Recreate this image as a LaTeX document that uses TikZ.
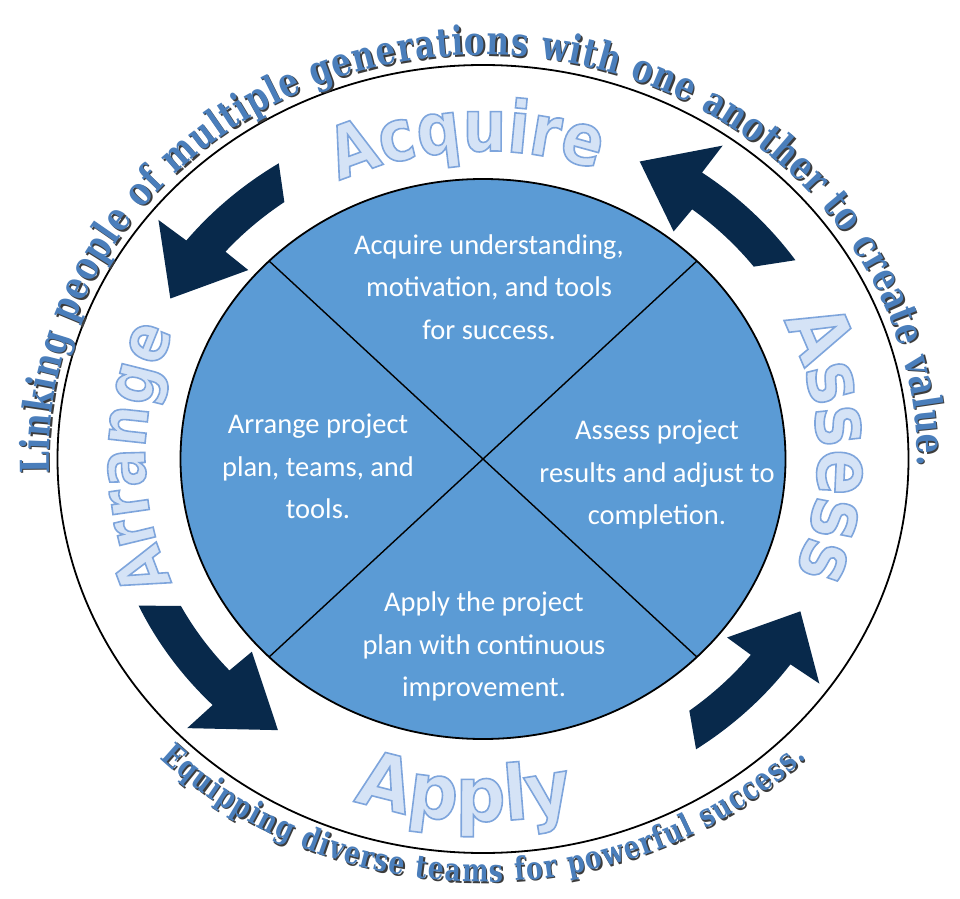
\documentclass[tikz,border=0pt]{standalone}
\usepackage{fontspec}
\usetikzlibrary{decorations.text}
\newfontfamily\quadfont{Carlito}
\newfontfamily\bigfont{DejaVu Sans}[FakeStretch=0.85]
\newfontfamily\bigfontb{DejaVu Sans}[FakeStretch=0.92]
\newfontfamily\ringfont{DejaVu Serif}[FakeStretch=0.78]
\definecolor{quadfill}{HTML}{5B9BD5}
\definecolor{arrowc}{HTML}{08294B}
\definecolor{ringblue}{HTML}{4A7EBB}
\definecolor{ringshadow}{HTML}{3C3C3C}
\definecolor{bigfill}{HTML}{D5E3F6}
\tikzset{
  quadtext/.style={font={\quadfont\fontsize{28.5}{42.5}\selectfont}, text=white, align=center, inner sep=0pt},
  ringline/.style={line width=1.8pt, draw=black},
  divline/.style={line width=1.4pt, draw=black}
}
% curved block arrow: #1 outer tail angle, #2 inner head-base angle, #3 tip angle
\newcommand\CurvedArrow[3]{%
  \fill[arrowc] (#1:351pt) arc[start angle=#1, end angle={#2+2.5}, radius=351pt]
    -- ({#2+2.5}:384pt) -- (#3:331pt) -- (#2:288pt) -- (#2:316pt)
    arc[start angle=#2, end angle={#1+3}, radius=316pt] -- cycle;}
% outlined big word along a path (fill + stroke text render mode): #1 font, #2 word, #3 path
\newcommand\BigWord[3]{%
  \path[decorate, decoration={text along path, text align=center,
      text={|#1\color{bigfill}\special{pdf:code 2 Tr 1.6 w 0.494 0.647 0.863 RG}|#2}}] #3;}
% ring text with offset shadow: #1 size, #2 text, #3 path
\newcommand\RingText[3]{%
  \path[decorate, decoration={text along path, text align=fit to path,
      text={|\ringfont\bfseries\fontsize{#1}{#1}\selectfont\color{ringshadow}|#2}},
      xshift=1.6pt, yshift=-1.6pt] #3;
  \path[decorate, decoration={text along path, text align=fit to path,
      text={|\ringfont\bfseries\fontsize{#1}{#1}\selectfont\color{ringblue}|#2}}] #3;}
\begin{document}
\begin{tikzpicture}[x=1pt,y=1pt]
\useasboundingbox (0,0) rectangle (960,898);
\fill[white] (0,0) rectangle (960,898);
\begin{scope}[shift={(483,439)}]
  % outer ring
  \draw[ringline] (0,0) ellipse [x radius=425.5pt, y radius=394pt];
  % inner disc
  \fill[quadfill] (0,0) ellipse [x radius=302.5pt, y radius=280pt];
  \draw[divline] (45:302.5pt and 280pt) -- (225:302.5pt and 280pt);
  \draw[divline] (135:302.5pt and 280pt) -- (315:302.5pt and 280pt);
  \draw[ringline] (0,0) ellipse [x radius=302.5pt, y radius=280pt];
  % arrows
  \begin{scope}[xscale=1.08]
    \CurvedArrow{34.5}{52.2}{64}
    \CurvedArrow{122.6}{139}{151}
    \CurvedArrow{204.7}{222}{235}
    \CurvedArrow{304.2}{321.7}{332.6}
  \end{scope}
  % big words
  \BigWord{\bigfont\bfseries\fontsize{72}{72}\selectfont}{Acquire}
    {(150:332.6pt and 308pt) arc[start angle=150, end angle=35.8, x radius=332.6pt, y radius=308pt]}
  \BigWord{\bigfont\bfseries\fontsize{67}{67}\selectfont}{Arrange}
    {(214:338pt and 313pt) arc[start angle=214, end angle=145.4, x radius=338pt, y radius=313pt]}
  \BigWord{\bigfont\bfseries\fontsize{80}{80}\selectfont}{Assess}
    {(36:335pt and 310pt) arc[start angle=36, end angle=-31, x radius=335pt, y radius=310pt]}
  \BigWord{\bigfontb\bfseries\fontsize{76}{76}\selectfont}{Apply}
    {(230:391pt and 362pt) arc[start angle=230, end angle=304, x radius=391pt, y radius=362pt]}
  % ring texts
  \RingText{40}{Linking people of multiple generations with one another to create value.}
    {(182:434pt and 404pt) arc[start angle=182, end angle=-1, x radius=434pt, y radius=404pt]}
  \RingText{32}{Equipping diverse teams for powerful success.}
    {(225:457pt and 423pt) arc[start angle=225, end angle=315, x radius=457pt, y radius=423pt]}
\end{scope}
% quadrant texts
\node[quadtext] (acq) at (489,611) {Acquire understanding,\\motivation, and tools\\for success.};
\node[quadtext] (arr) at (318,431.5) {Arrange project\\plan, teams, and\\tools.};
\node[quadtext] (ass) at (657,423.5) {Assess project\\results and adjust to\\completion.};
\node[quadtext] (app) at (484,251.5) {Apply the project\\plan with continuous\\improvement.};
\end{tikzpicture}
\end{document}
